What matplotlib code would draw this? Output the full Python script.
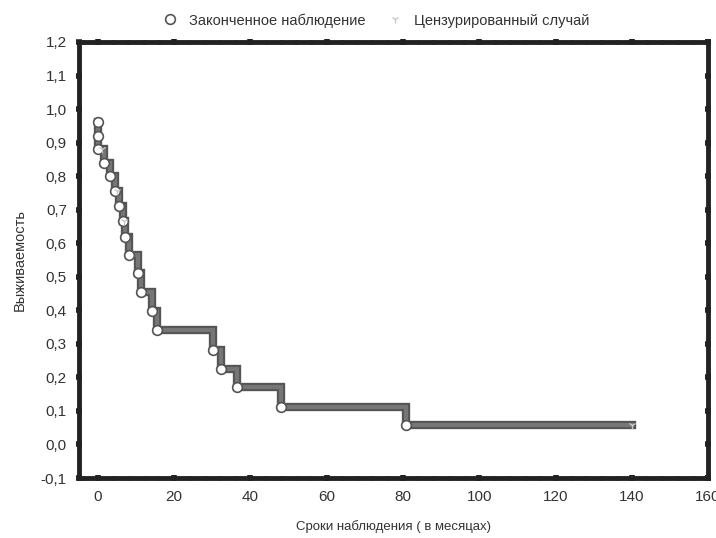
import matplotlib.pyplot as plt
from matplotlib.ticker import FuncFormatter, MultipleLocator

# Kaplan-Meier steps: event times (months) and survival after each event
times = [0, 0, 0, 1.5, 3.1, 4.4, 5.5, 6.6, 7.2, 8.3, 10.5, 11.2, 14.3, 15.4,
         30.2, 32.2, 36.4, 48.0, 80.9]
surv = [0.96, 0.92, 0.88, 0.84, 0.80, 0.755, 0.71, 0.665, 0.62, 0.565, 0.51,
        0.455, 0.398, 0.341, 0.282, 0.225, 0.17, 0.113, 0.057]
end_time = 140

# censored cases
cens_t = [1.2, 5.0, 6.9, 140]
cens_s = [0.88, 0.755, 0.665, 0.057]

plt.rcParams['font.family'] = ['Liberation Sans', 'DejaVu Sans']

fig = plt.figure(figsize=(7.16, 5.38), dpi=100)
ax = fig.add_axes([0.110, 0.1115, 0.879, 0.8105])

step_x = times + [end_time]
step_y = surv + [surv[-1]]
ax.step(step_x, step_y, where='post', color='#555555', lw=6, solid_joinstyle='miter', zorder=2)
ax.step(step_x, step_y, where='post', color='#767676', lw=3, solid_joinstyle='miter', zorder=2)

ax.plot(times, surv, 'o', ms=7, mfc='white', mec='#555555', mew=1.2, zorder=3,
        label='Законченное наблюдение')
ax.plot(cens_t, cens_s, '1', ms=6, color='#c8c8c8', mew=1, zorder=4,
        label='Цензурированный случай')

ax.set_xlim(-5, 160)
ax.set_ylim(-0.1, 1.2)
ax.xaxis.set_major_locator(MultipleLocator(20))
ax.xaxis.set_minor_locator(MultipleLocator(4))
ax.yaxis.set_major_locator(MultipleLocator(0.1))
ax.yaxis.set_major_formatter(FuncFormatter(lambda v, p: f'{v:.1f}'.replace('.', ',')))

for s in ax.spines.values():
    s.set_linewidth(3.5)
    s.set_color('#222222')

ax.tick_params(which='major', direction='inout', length=5, width=4, color='#222222',
               top=True, right=True, labelsize=11, labelcolor='#333333', pad=6)
ax.tick_params(which='minor', direction='inout', length=3, width=2.5, color='#222222',
               top=True, right=False)

ax.set_xlabel('Сроки наблюдения ( в месяцах)', fontsize=9.5, color='#333333', labelpad=12)
ax.set_ylabel('Выживаемость', fontsize=10.5, color='#333333', labelpad=10)

fig.legend(loc='upper center', bbox_to_anchor=(0.52, 1.0), ncol=2, frameon=False,
           fontsize=10.5, handletextpad=0.3, columnspacing=1.0, labelcolor='#333333')

fig.savefig('out.png', dpi=100)
